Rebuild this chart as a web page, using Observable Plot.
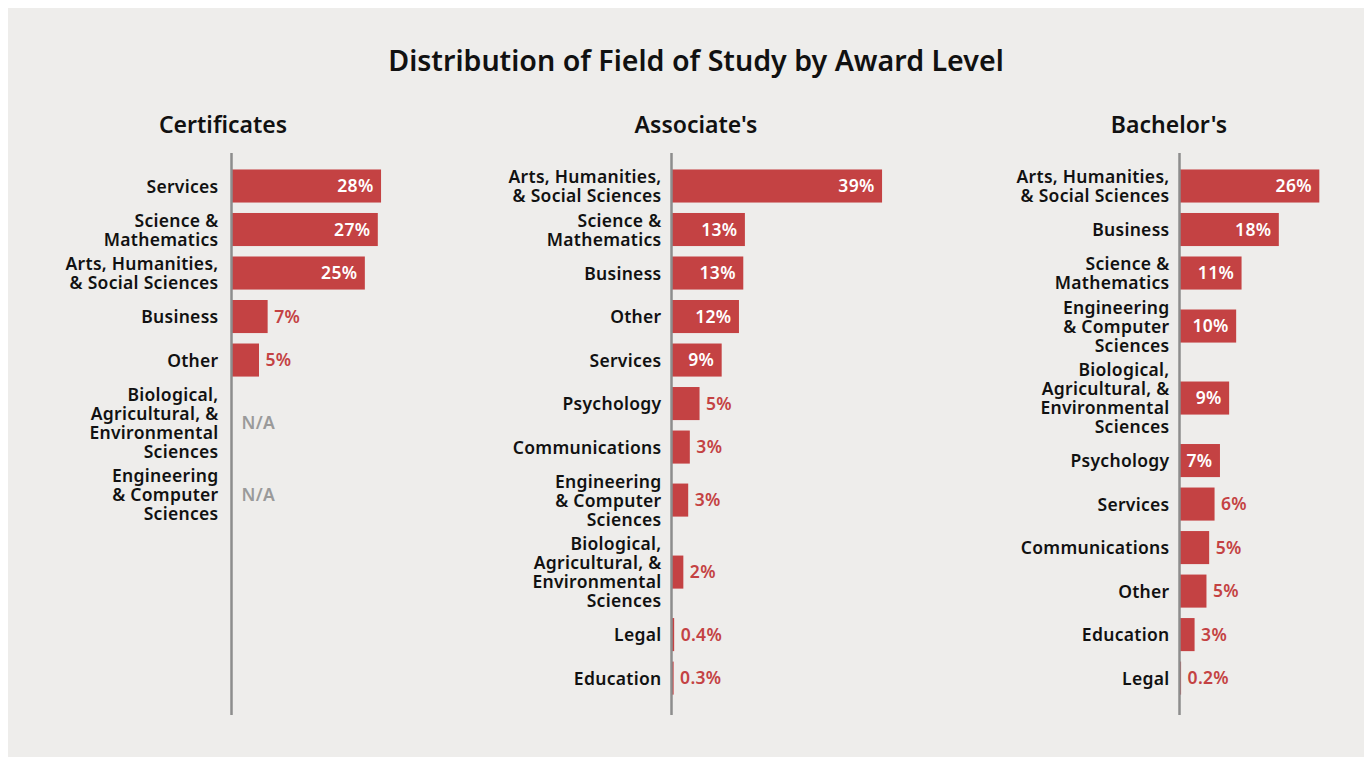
<!DOCTYPE html>
<html>
<head>
<meta charset="utf-8">
<script src="https://cdn.jsdelivr.net/npm/d3@7"></script>
<script src="https://cdn.jsdelivr.net/npm/@observablehq/plot@0.6"></script>
<style>
  html, body { margin: 0; padding: 0; background: #ffffff; }
  #page { position: relative; width: 1372px; height: 757px; overflow: hidden; font-family: "Noto Sans", Lato, sans-serif; }
  #panel { position: absolute; left: 8px; top: 8px; width: 1356px; height: 760px; background: #eeedeb; }
  #title { position: absolute; left: 0; width: 1392px; top: 40px; text-align: center; font-size: 28.6px; font-weight: 600; color: #111; }
  .ptitle { position: absolute; top: 108px; width: 300px; text-align: center; font-size: 23px; font-weight: 600; color: #111; }
  .chart { position: absolute; top: 8px; }
</style>
</head>
<body>
<div id="page">
  <div id="panel"></div>
  <div id="title">Distribution of Field of Study by Award Level</div>
  <div class="ptitle" style="left:73px">Certificates</div>
  <div class="ptitle" style="left:546px">Associate's</div>
  <div class="ptitle" style="left:1019px">Bachelor's</div>
  <div id="c0" class="chart" style="left:8px"></div>
  <div id="c1" class="chart" style="left:460px"></div>
  <div id="c2" class="chart" style="left:912px"></div>
</div>
<script>
// ---- Data ----
const certCategories = ["Services", "Science &\nMathematics", "Arts, Humanities,\n& Social Sciences", "Business", "Other", "Biological,\nAgricultural, &\nEnvironmental\nSciences", "Engineering\n& Computer\nSciences"];
const certValues = [27.6, 27.0, 24.6, 6.6, 5.0, null, null];
const certLabels = ["28%", "27%", "25%", "7%", "5%", "N/A", "N/A"];

const assocCategories = ["Arts, Humanities,\n& Social Sciences", "Science &\nMathematics", "Business", "Other", "Services", "Psychology", "Communications", "Engineering\n& Computer\nSciences", "Biological,\nAgricultural, &\nEnvironmental\nSciences", "Legal", "Education"];
const assocValues = [38.9, 13.5, 13.2, 12.4, 9.2, 5.1, 3.3, 3.0, 2.1, 0.4, 0.3];
const assocLabels = ["39%", "13%", "13%", "12%", "9%", "5%", "3%", "3%", "2%", "0.4%", "0.3%"];

const bachCategories = ["Arts, Humanities,\n& Social Sciences", "Business", "Science &\nMathematics", "Engineering\n& Computer\nSciences", "Biological,\nAgricultural, &\nEnvironmental\nSciences", "Psychology", "Services", "Communications", "Other", "Education", "Legal"];
const bachValues = [25.8, 18.3, 11.4, 10.4, 9.1, 7.4, 6.4, 5.4, 4.9, 2.7, 0.2];
const bachLabels = ["26%", "18%", "11%", "10%", "9%", "7%", "6%", "5%", "5%", "3%", "0.2%"];

// ---- Styling ----
const RED = "#c44243";
const FONT = "'Noto Sans', Lato, sans-serif";
const LINE_PX = 19;        // pixels per label line
const BAR_HALF = 0.87;     // half bar thickness in line units
const FS = 17.5;

function buildRows(cats, vals, labs) {
  let cum = 0;
  return cats.map((cat, i) => {
    const lines = cat.split("\n").length;
    const h = Math.max(2, lines) + 0.29;
    const c = cum + h / 2;
    cum += h;
    return { cat, value: vals[i], label: labs[i], c };
  });
}

function panel(el, cats, vals, labs, marginLeft, labelGap) {
  const rows = buildRows(cats, vals, labs);
  const total = d3.sum(rows, d => Math.max(2, d.cat.split("\n").length) + 0.29);
  const withBar = rows.filter(d => d.value != null);
  const inside = withBar.filter(d => d.value >= 7);
  const outside = withBar.filter(d => d.value < 7);
  const na = rows.filter(d => d.value == null);
  const top = 156.25;
  const chart = Plot.plot({
    width: 452,
    height: 749,
    marginTop: 145,
    marginBottom: 42,
    marginLeft,
    marginRight: 0,
    style: { background: "transparent", fontFamily: FONT, overflow: "visible", letterSpacing: "0.3px" },
    x: { domain: [0, 40], range: [marginLeft + 1, marginLeft + 217], axis: null },
    y: { type: "linear", domain: [0, total], range: [top, top + LINE_PX * total], axis: null },
    marks: [
      Plot.rect(withBar, { x1: d => 0, x2: "value", y1: d => d.c - BAR_HALF, y2: d => d.c + BAR_HALF, fill: RED }),
      Plot.ruleX([0], { x: d => 0, dx: -1, stroke: "#8d8d8d", strokeWidth: 2.5 }),
      Plot.text(rows, { x: d => 0, y: "c", text: "cat", textAnchor: "end", dx: -labelGap, fontSize: FS, fontWeight: 600, lineHeight: 1.085, fill: "#111" }),
      Plot.text(inside, { x: "value", y: "c", text: "label", textAnchor: "end", dx: -8, fontSize: FS, fontWeight: 600, fill: "#ffffff" }),
      Plot.text(outside, { x: "value", y: "c", text: "label", textAnchor: "start", dx: 6, fontSize: FS, fontWeight: 600, fill: RED }),
      Plot.text(na, { x: d => 0, y: "c", text: "label", textAnchor: "start", dx: 9, fontSize: FS, fontWeight: 600, fill: "#9a9a9a", style: "letter-spacing:1px" })
    ]
  });
  document.getElementById(el).appendChild(chart);
}

panel("c0", certCategories, certValues, certLabels, 223, 14);
panel("c1", assocCategories, assocValues, assocLabels, 211, 11);
panel("c2", bachCategories, bachValues, bachLabels, 267, 11);
</script>
</body>
</html>
